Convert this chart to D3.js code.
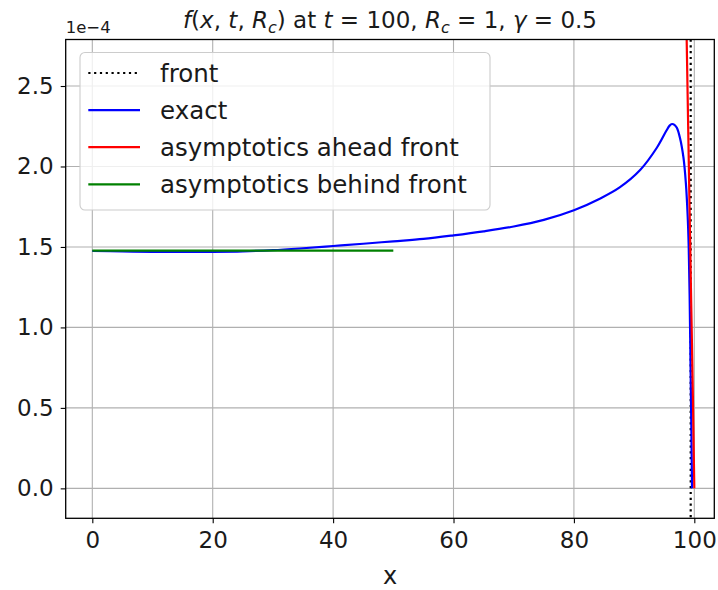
<!DOCTYPE html>
<html>
<head>
<meta charset="utf-8">
<script src="https://cdn.jsdelivr.net/npm/d3@7"></script>
<style>
  html, body { margin: 0; padding: 0; background: #fff; }
  svg { display: block; font-family: "DejaVu Sans", sans-serif; }
</style>
</head>
<body>
<svg id="chart" width="718" height="590"></svg>
<script>
// f(x, t, Rc) in units of 1e-4
const exactX = [0, 5, 10, 15, 20, 25, 30, 35, 40, 45, 50, 55, 60, 65, 70, 75, 80, 84.3, 87.6, 91.0, 93.8, 95.4, 95.9, 96.3, 96.7, 97.1, 97.6, 98.2, 98.6, 98.9, 99.07, 99.22, 99.36, 99.5, 99.62];
const exactY = [1.475, 1.472, 1.470, 1.469, 1.470, 1.473, 1.480, 1.492, 1.506, 1.520, 1.535, 1.550, 1.572, 1.597, 1.627, 1.668, 1.728, 1.800, 1.870, 1.978, 2.118, 2.225, 2.254, 2.264, 2.259, 2.240, 2.180, 2.055, 1.895, 1.690, 1.500, 1.200, 0.800, 0.400, 0.0];

// asymptotics ahead of the front
const aheadX = [98.6, 98.73, 99.0, 99.27, 99.5, 99.72, 100.0];
const aheadY = [3.05, 2.79, 2.20, 1.61, 1.12, 0.67, 0.0];

// asymptotics behind the front
const behindX = [0, 50];
const behindY = [1.477, 1.477];

// front position
const frontX = 99.4;

const xTicks = [0, 20, 40, 60, 80, 100];
const yTicks = [0.0, 0.5, 1.0, 1.5, 2.0, 2.5];

const legendLabels = ["front", "exact", "asymptotics ahead front", "asymptotics behind front"];
const legendColors = ["#000000", "#0000ff", "#ff0000", "#008000"];

const L = 65.7, R = 714.3, T = 39.5, B = 518.3;
const x = d3.scaleLinear().domain([-4.42, 103.32]).range([L, R]);
const y = d3.scaleLinear().domain([-0.186, 2.789]).range([B, T]);

const svg = d3.select("#chart");

svg.append("defs").append("clipPath").attr("id", "plotclip")
  .append("rect").attr("x", L).attr("y", T).attr("width", R - L).attr("height", B - T);

// grid
const grid = svg.append("g");
grid.selectAll(".gx").data(xTicks).enter().append("line")
  .attr("x1", d => x(d)).attr("x2", d => x(d)).attr("y1", T).attr("y2", B)
  .attr("stroke", "#b0b0b0").attr("stroke-width", 1.1);
grid.selectAll(".gy").data(yTicks).enter().append("line")
  .attr("x1", L).attr("x2", R).attr("y1", d => y(d)).attr("y2", d => y(d))
  .attr("stroke", "#b0b0b0").attr("stroke-width", 1.1);

// series
const plot = svg.append("g").attr("clip-path", "url(#plotclip)");
const line = d3.line().x(d => x(d[0])).y(d => y(d[1])).curve(d3.curveCatmullRom.alpha(0.5));

plot.append("line")
  .attr("x1", x(frontX)).attr("x2", x(frontX)).attr("y1", T).attr("y2", B)
  .attr("stroke", "#000").attr("stroke-width", 2.2).attr("stroke-dasharray", "2.2,3.6");

plot.append("path").datum(d3.zip(exactX, exactY)).attr("d", line)
  .attr("fill", "none").attr("stroke", "#0000ff").attr("stroke-width", 2.2);

plot.append("path").datum(d3.zip(aheadX, aheadY)).attr("d", line)
  .attr("fill", "none").attr("stroke", "#ff0000").attr("stroke-width", 2.2);

plot.append("path").datum(d3.zip(behindX, behindY)).attr("d", line)
  .attr("fill", "none").attr("stroke", "#008000").attr("stroke-width", 2.2);

// axes
const xAxis = svg.append("g").attr("transform", `translate(0,${B})`)
  .call(d3.axisBottom(x).tickValues(xTicks).tickSize(5).tickPadding(8).tickFormat(d3.format("d")));
const yAxis = svg.append("g").attr("transform", `translate(${L},0)`)
  .call(d3.axisLeft(y).tickValues(yTicks).tickSize(5).tickPadding(7).tickFormat(d3.format(".1f")));
[xAxis, yAxis].forEach(a => {
  a.select(".domain").remove();
  a.selectAll(".tick line").attr("stroke", "#000").attr("stroke-width", 1.1);
  a.selectAll(".tick text").attr("fill", "#1a1a1a").attr("font-size", 23).attr("font-family", "DejaVu Sans");
});

// frame
svg.append("rect").attr("x", L).attr("y", T).attr("width", R - L).attr("height", B - T)
  .attr("fill", "none").attr("stroke", "#000").attr("stroke-width", 1.3);

// offset text
svg.append("text").attr("x", L).attr("y", 33).attr("font-size", 16.5).attr("fill", "#1a1a1a").text("1e\u22124");

// x label
svg.append("text").attr("x", (L + R) / 2).attr("y", 583.5).attr("text-anchor", "middle")
  .attr("font-size", 24).attr("fill", "#1a1a1a").text("x");

// title
const title = svg.append("text").attr("x", (L + R) / 2).attr("y", 28).attr("text-anchor", "middle")
  .attr("font-size", 23).attr("fill", "#1a1a1a");
const parts = [
  ["f", "i"], ["(", "n"], ["x", "i"], [", ", "n"], ["t", "i"], [", ", "n"], ["R", "i"], ["c", "s"], [")", "n"],
  [" at ", "n"], ["t", "i"], [" = 100, ", "n"], ["R", "i"], ["c", "s"], [" = 1, ", "n"], ["\u03b3", "i"], [" = 0.5", "n"]
];
let lowered = false;
parts.forEach(([s, k]) => {
  const ts = title.append("tspan").text(s);
  if (k === "i") ts.attr("font-style", "italic");
  if (k === "s") {
    ts.attr("font-style", "italic").attr("font-size", 16).attr("dy", 5);
    lowered = true;
  } else if (lowered) {
    ts.attr("dy", -5);
    lowered = false;
  }
});

// legend
const lg = svg.append("g");
lg.append("rect").attr("x", 80).attr("y", 52.5).attr("width", 410).attr("height", 157.5)
  .attr("rx", 5).attr("fill", "#fff").attr("fill-opacity", 0.8)
  .attr("stroke", "#cccccc").attr("stroke-width", 1.1);
legendLabels.forEach((lab, i) => {
  const cy = 73 + i * 37.1;
  const ln = lg.append("line").attr("x1", 88.3).attr("x2", 140).attr("y1", cy).attr("y2", cy)
    .attr("stroke", legendColors[i]).attr("stroke-width", 2.2);
  if (i === 0) ln.attr("stroke-dasharray", "2.2,3.6");
  lg.append("text").attr("x", 160).attr("y", cy).attr("dy", "0.36em")
    .attr("font-size", 24.5).attr("fill", "#1a1a1a").text(lab);
});
</script>
</body>
</html>
